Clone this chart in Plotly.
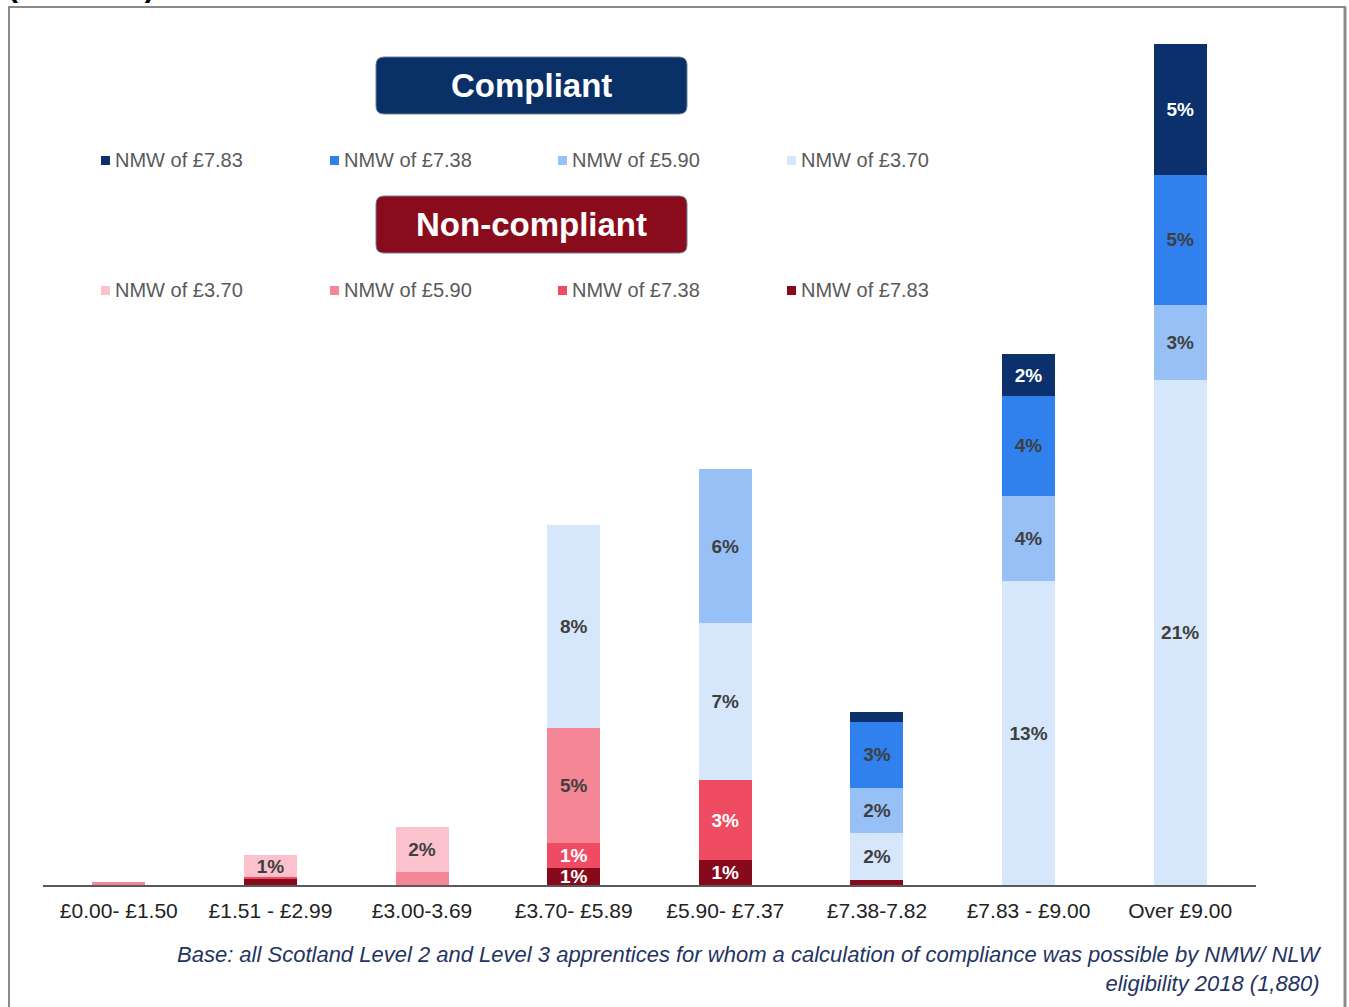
import plotly.graph_objects as go

# ---------------- data ----------------
categories = ["£0.00- £1.50", "£1.51 - £2.99", "£3.00-3.69", "£3.70- £5.89",
              "£5.90- £7.37", "£7.38-7.82", "£7.83 - £9.00", "Over £9.00"]

# non-compliant (stacked bottom up)
nc_783 = [0, 0.25, 0, 0.7, 1.05, 0.2, 0, 0]
nc_738 = [0, 0.08, 0, 1.05, 3.3, 0, 0, 0]
nc_590 = [0.12, 0, 0.55, 4.8, 0, 0, 0, 0]
nc_370 = [0, 0.9, 1.85, 0, 0, 0, 0, 0]
# compliant
c_370 = [0, 0, 0, 8.45, 6.55, 1.95, 12.65, 21.0]
c_590 = [0, 0, 0, 0, 6.4, 1.9, 3.55, 3.12]
c_738 = [0, 0, 0, 0, 0, 2.75, 4.15, 5.45]
c_783 = [0, 0, 0, 0, 0, 0.4, 1.75, 5.45]

compliant_labels = ["NMW of £7.83", "NMW of £7.38", "NMW of £5.90", "NMW of £3.70"]
noncompliant_labels = ["NMW of £3.70", "NMW of £5.90", "NMW of £7.38", "NMW of £7.83"]
footnote = ("Base: all Scotland Level 2 and Level 3 apprentices for whom a calculation of "
            "compliance was possible by NMW/ NLW<br>eligibility 2018 (1,880)")

# ---------------- styling ----------------
COL = {
    "c783": "#0b306b", "c738": "#3080ee", "c590": "#97c0f6", "c370": "#d6e6fb",
    "nc370": "#fbc1cc", "nc590": "#f48695", "nc738": "#ef4b62", "nc783": "#870a1c",
}
DARK_TXT = "#3f3f3f"

W, H = 1349, 1007
L, R, T, B = 43, 93, 20, 122
PW, PH = W - L - R, H - T - B


def px(x):
    return (x - L) / PW


def py(y):
    return (H - B - y) / PH


def lab(v):
    return f"{v:.0f}%" if v >= 0.6 else ""


series = [
    ("nc783", nc_783, "white"),
    ("nc738", nc_738, "white"),
    ("nc590", nc_590, DARK_TXT),
    ("nc370", nc_370, DARK_TXT),
    ("c370", c_370, DARK_TXT),
    ("c590", c_590, DARK_TXT),
    ("c738", c_738, DARK_TXT),
    ("c783", c_783, "white"),
]

fig = go.Figure()
for key, vals, tcol in series:
    fig.add_trace(go.Bar(
        x=categories, y=vals, name=key,
        marker=dict(color=COL[key], line=dict(width=0)),
        text=[lab(v) for v in vals],
        textposition="inside", insidetextanchor="middle", textangle=0,
        textfont=dict(family="Liberation Sans", size=19, color=tcol, weight="bold"),
        showlegend=False, hoverinfo="skip",
    ))

shapes = []
annotations = []


def rounded(x0, y0, x1, y1, r):
    pts = []
    pts.append(f"M{px(x0 + r)},{py(y0)}")
    pts.append(f"L{px(x1 - r)},{py(y0)}")
    pts.append(f"Q{px(x1)},{py(y0)} {px(x1)},{py(y0 + r)}")
    pts.append(f"L{px(x1)},{py(y1 - r)}")
    pts.append(f"Q{px(x1)},{py(y1)} {px(x1 - r)},{py(y1)}")
    pts.append(f"L{px(x0 + r)},{py(y1)}")
    pts.append(f"Q{px(x0)},{py(y1)} {px(x0)},{py(y1 - r)}")
    pts.append(f"L{px(x0)},{py(y0 + r)}")
    pts.append(f"Q{px(x0)},{py(y0)} {px(x0 + r)},{py(y0)}Z")
    return "".join(pts)


# header boxes
for (y0, y1, fill, txt) in [(57, 114, "#0a3068", "Compliant"),
                            (196, 253, "#8a0c1c", "Non-compliant")]:
    shapes.append(dict(type="path", xref="paper", yref="paper",
                       path=rounded(376, y0, 687, y1, 8),
                       fillcolor=fill, line=dict(color="#6f7f99", width=1)))
    annotations.append(dict(x=px(531.5), y=py((y0 + y1) / 2), xref="paper", yref="paper",
                            text=txt, showarrow=False, xanchor="center", yanchor="middle",
                            font=dict(family="Liberation Sans", size=33, color="white",
                                      weight="bold")))

# manual legends
legend_x = [101, 330, 558, 787]
for row_y, labels, keys in [(160, compliant_labels, ["c783", "c738", "c590", "c370"]),
                            (290, noncompliant_labels, ["nc370", "nc590", "nc738", "nc783"])]:
    for lx, text, key in zip(legend_x, labels, keys):
        shapes.append(dict(type="rect", xref="paper", yref="paper",
                           x0=px(lx), x1=px(lx + 9), y0=py(row_y + 5), y1=py(row_y - 4),
                           fillcolor=COL[key], line=dict(width=0)))
        annotations.append(dict(x=px(lx + 12), y=py(row_y), xref="paper", yref="paper",
                                text=text, showarrow=False, xanchor="left", yanchor="middle",
                                font=dict(family="Liberation Sans", size=20, color="#5a5a5a")))

# footnote
annotations.append(dict(x=px(1324), y=py(940), xref="paper", yref="paper",
                        text=f"<i>{footnote}</i>", showarrow=False, align="right",
                        xanchor="right", yanchor="top",
                        font=dict(family="Liberation Sans", size=22, color="#1f3561")))

# clipped heading from previous page
annotations.append(dict(x=px(6), y=py(5), xref="paper", yref="paper",
                        text="<b>(Scotland)</b>", showarrow=False, xanchor="left",
                        yanchor="bottom",
                        font=dict(family="Liberation Sans", size=30, color="black")))

# page frame
frame = "#8a8a8a"
shapes.append(dict(type="line", xref="paper", yref="paper", x0=px(8), x1=px(1346),
                   y0=py(7), y1=py(7), line=dict(color=frame, width=2)))
shapes.append(dict(type="line", xref="paper", yref="paper", x0=px(9), x1=px(9),
                   y0=py(7), y1=py(1010), line=dict(color=frame, width=2)))
shapes.append(dict(type="line", xref="paper", yref="paper", x0=px(1345), x1=px(1345),
                   y0=py(7), y1=py(1010), line=dict(color=frame, width=3)))

fig.update_layout(
    width=W, height=H,
    margin=dict(l=L, r=R, t=T, b=B, pad=0),
    barmode="stack", bargap=0.65,
    paper_bgcolor="white", plot_bgcolor="white",
    uniformtext=dict(minsize=19, mode="show"),
    shapes=shapes, annotations=annotations,
    xaxis=dict(showline=True, linecolor="#5a5a5a", linewidth=2, ticks="",
               showgrid=False, zeroline=False, ticklabelstandoff=6,
               tickfont=dict(family="Liberation Sans", size=21, color="#222222"),
               range=[-0.5, 7.5]),
    yaxis=dict(visible=False, range=[0, 36], showgrid=False, zeroline=False),
    font=dict(family="Liberation Sans"),
)

fig.write_html("out.html", config={"displayModeBar": False},
               post_script="document.body.style.margin='0';document.body.style.overflow='hidden';")
